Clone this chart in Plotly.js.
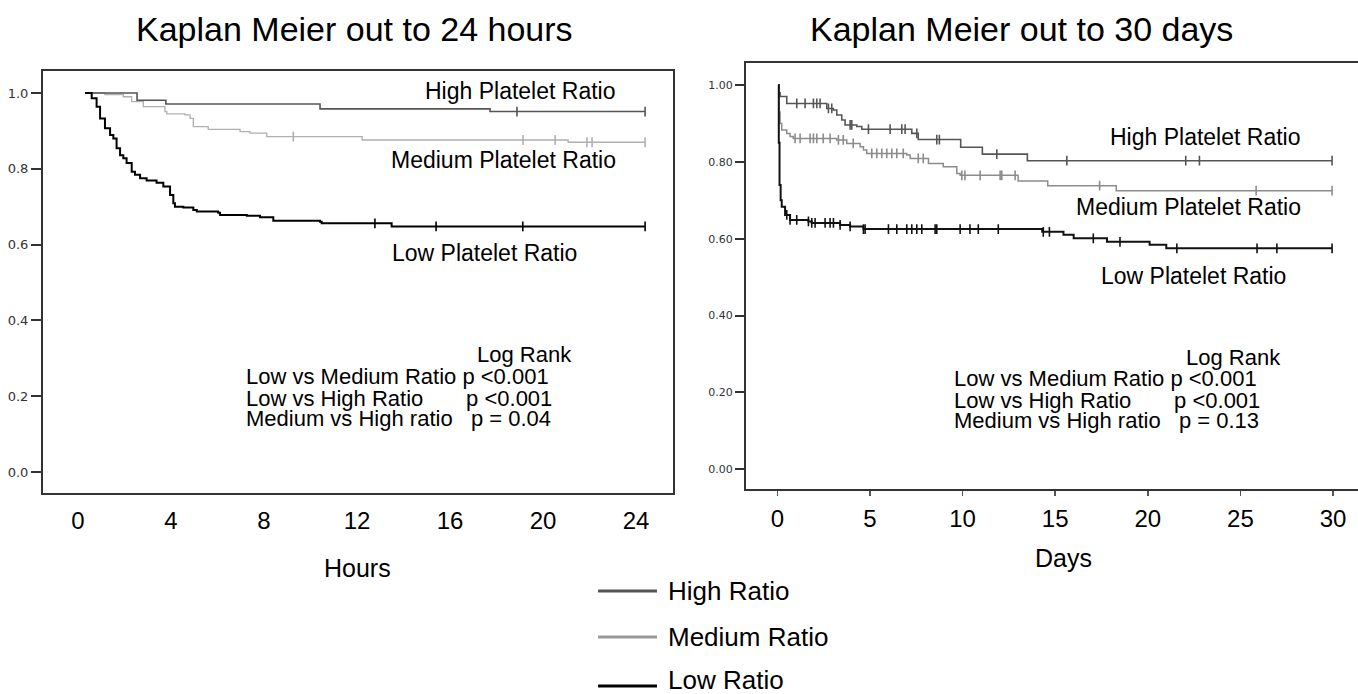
<!DOCTYPE html>
<html>
<head>
<meta charset="utf-8">
<script src="https://cdn.plot.ly/plotly-3.0.1.min.js"></script>
<style>html,body{margin:0;padding:0;background:#fff;}#chart{width:1358px;height:694px;}</style>
</head>
<body>
<div id="chart"></div>
<script>
// ---------- Data: Kaplan Meier out to 24 hours ----------
const hoursTicks = [0, 4, 8, 12, 16, 20, 24];
const hoursHighT = [0.30, 2.54, 3.78, 10.41, 17.72, 24.39];
const hoursHighS = [1.0, 0.981, 0.971, 0.958, 0.951, 0.951];
const hoursHighCens = [18.88, 24.39];

const hoursMedT = [0.30, 1.16, 1.95, 2.31, 2.81, 3.74, 3.82, 4.60, 4.82, 4.96, 5.60, 6.97, 7.40, 8.12, 12.22, 21.08, 24.39];
const hoursMedS = [1.0, 0.996, 0.99, 0.977, 0.964, 0.951, 0.945, 0.942, 0.933, 0.911, 0.904, 0.898, 0.894, 0.885, 0.876, 0.870, 0.870];
const hoursMedCens = [9.26, 19.14, 20.52, 21.89, 22.11, 24.39];

const hoursLowT = [0.30, 0.59, 0.80, 0.95, 1.16, 1.38, 1.52, 1.66, 1.81, 1.95, 2.09, 2.31, 2.45, 2.67, 2.95, 3.38, 3.67, 3.96, 4.10, 4.17, 4.53, 4.96, 5.11, 6.03, 6.11, 7.26, 7.83, 8.40, 10.41, 10.48, 13.49, 24.39];
const hoursLowS = [1.0, 0.986, 0.964, 0.933, 0.907, 0.889, 0.880, 0.854, 0.836, 0.828, 0.815, 0.792, 0.784, 0.775, 0.769, 0.763, 0.753, 0.731, 0.709, 0.700, 0.698, 0.691, 0.687, 0.684, 0.678, 0.676, 0.672, 0.663, 0.660, 0.656, 0.648, 0.648];
const hoursLowCens = [12.77, 15.40, 19.13, 24.39];

// ---------- Data: Kaplan Meier out to 30 days ----------
const daysTicks = [0, 5, 10, 15, 20, 25, 30];
const daysHighT = [0.05, 0.08, 0.15, 0.51, 2.67, 3.02, 3.21, 3.48, 3.66, 4.29, 4.56, 7.26, 7.61, 9.90, 11.07, 13.50, 29.95];
const daysHighS = [1.0, 0.98, 0.970, 0.952, 0.939, 0.935, 0.922, 0.909, 0.896, 0.892, 0.885, 0.874, 0.858, 0.838, 0.820, 0.803, 0.803];
const daysHighCens = [1.05, 1.5, 1.95, 2.13, 2.31, 2.76, 2.94, 3.93, 4.02, 4.92, 6.09, 6.72, 6.9, 7.53, 8.61, 8.75, 11.85, 15.63, 22.05, 22.79, 29.95];

const daysMedT = [0.05, 0.08, 0.15, 0.24, 0.51, 0.69, 0.86, 3.21, 3.75, 4.47, 4.65, 4.83, 6.99, 7.17, 8.16, 8.96, 9.69, 9.87, 13.0, 14.6, 18.3, 29.95];
const daysMedS = [1.0, 0.93, 0.900, 0.883, 0.874, 0.866, 0.861, 0.857, 0.848, 0.839, 0.831, 0.822, 0.818, 0.809, 0.796, 0.787, 0.770, 0.765, 0.750, 0.738, 0.725, 0.725];
const daysMedCens = [0.96, 1.23, 1.77, 1.95, 2.13, 2.48, 2.85, 3.3, 3.56, 4.1, 5.1, 5.37, 5.64, 5.91, 6.18, 6.45, 6.8, 7.61, 7.88, 9.96, 10.13, 10.95, 12.03, 12.12, 12.84, 17.4, 25.85, 29.95];

const daysLowT = [0.05, 0.08, 0.12, 0.18, 0.24, 0.42, 0.69, 1.68, 1.86, 3.39, 3.93, 4.65, 14.3, 15.45, 16.0, 17.8, 20.1, 21.0, 29.95];
const daysLowS = [1.0, 0.85, 0.74, 0.70, 0.683, 0.662, 0.649, 0.645, 0.641, 0.636, 0.632, 0.625, 0.618, 0.610, 0.601, 0.592, 0.584, 0.575, 0.575];
const daysLowCens = [0.51, 0.69, 1.05, 1.68, 1.86, 2.04, 2.58, 2.85, 3.03, 3.39, 3.93, 4.65, 4.74, 6.0, 6.45, 6.99, 7.26, 7.53, 7.8, 8.52, 8.61, 9.87, 10.4, 10.85, 11.93, 14.36, 14.69, 17.06, 18.5, 21.57, 25.9, 26.97, 29.95];

const seriesNames = ["High Ratio", "Medium Ratio", "Low Ratio"];
const NB = '\u00A0';
const logRankRows = ["Low vs Medium Ratio p <0.001", "Low vs High Ratio" + NB.repeat(7) + "p <0.001", "Medium vs High ratio" + NB.repeat(3)];
const pHours = "p = 0.04", pDays = "p = 0.13";

// ---------- helpers ----------
function stepAt(T, S, t) {
  let v = S[0];
  for (let i = 0; i < T.length; i++) { if (T[i] <= t + 1e-9) v = S[i]; }
  return v;
}
function curve(T, S, color, width, xa, ya, name) {
  return {x: T, y: S, type: 'scatter', mode: 'lines', line: {shape: 'hv', color: color, width: width},
          xaxis: xa, yaxis: ya, name: name, hoverinfo: 'x+y+name'};
}
function cens(C, T, S, color, xa, ya, name) {
  return {x: C, y: C.map(t => stepAt(T, S, t)), type: 'scatter', mode: 'markers',
          marker: {symbol: 'line-ns-open', size: 7, color: color, line: {color: color, width: 1.6}},
          xaxis: xa, yaxis: ya, name: name + ' censored', hoverinfo: 'x+y+name'};
}

const cHigh = '#555555', cMedL = '#b0b0b0', cMedR = '#8c8c8c', cLow = '#000000';

const traces = [
  curve(hoursMedT, hoursMedS, cMedL, 1.3, 'x', 'y', seriesNames[1]),
  cens(hoursMedCens, hoursMedT, hoursMedS, cMedL, 'x', 'y', seriesNames[1]),
  curve(hoursHighT, hoursHighS, cHigh, 1.6, 'x', 'y', seriesNames[0]),
  cens(hoursHighCens, hoursHighT, hoursHighS, cHigh, 'x', 'y', seriesNames[0]),
  curve(hoursLowT, hoursLowS, cLow, 2.0, 'x', 'y', seriesNames[2]),
  cens(hoursLowCens, hoursLowT, hoursLowS, cLow, 'x', 'y', seriesNames[2]),

  curve(daysMedT, daysMedS, cMedR, 1.5, 'x2', 'y2', seriesNames[1]),
  cens(daysMedCens, daysMedT, daysMedS, cMedR, 'x2', 'y2', seriesNames[1]),
  curve(daysHighT, daysHighS, cHigh, 1.6, 'x2', 'y2', seriesNames[0]),
  cens(daysHighCens, daysHighT, daysHighS, cHigh, 'x2', 'y2', seriesNames[0]),
  curve(daysLowT, daysLowS, '#111111', 2.0, 'x2', 'y2', seriesNames[2]),
  cens(daysLowCens, daysLowT, daysLowS, '#111111', 'x2', 'y2', seriesNames[2])
];

const FONT = '"Liberation Sans", Arial, Helvetica, sans-serif';
const TICKFONT = '"DejaVu Sans", "Liberation Sans", sans-serif';

function ann(text, x, y, xref, yref, xanchor, size) {
  return {text: text, x: x, y: y, xref: xref, yref: yref, xanchor: xanchor, yanchor: 'middle',
          showarrow: false, borderpad: 0, font: {family: FONT, size: size, color: '#000'}};
}

const annotations = [
  // titles
  ann('Kaplan Meier out to 24 hours', 0.2614, 0.958, 'paper', 'paper', 'center', 34),
  ann('Kaplan Meier out to 30 days', 0.7525, 0.958, 'paper', 'paper', 'center', 34),
  // axis titles
  ann('Hours', 0.2629, 0.1816, 'paper', 'paper', 'center', 25),
  ann('Days', 0.7828, 0.196, 'paper', 'paper', 'center', 25),
  // left panel labels
  ann('High Platelet Ratio', 23.18, 1.005, 'x', 'y', 'right', 23),
  ann('Medium Platelet Ratio', 23.18, 0.823, 'x', 'y', 'right', 23),
  ann('Low Platelet Ratio', 13.46, 0.578, 'x', 'y', 'left', 23),
  ann('Log Rank', 21.29, 0.309, 'x', 'y', 'right', 22),
  ann(logRankRows[0], 7.18, 0.253, 'x', 'y', 'left', 22),
  ann(logRankRows[1], 7.18, 0.195, 'x', 'y', 'left', 22),
  ann(logRankRows[2] + pHours, 7.18, 0.140, 'x', 'y', 'left', 22),
  // right panel labels
  ann('High Platelet Ratio', 28.33, 0.865, 'x2', 'y2', 'right', 23),
  ann('Medium Platelet Ratio', 28.33, 0.683, 'x2', 'y2', 'right', 23),
  ann('Low Platelet Ratio', 17.42, 0.503, 'x2', 'y2', 'left', 23),
  ann('Log Rank', 27.25, 0.292, 'x2', 'y2', 'right', 22),
  ann(logRankRows[0], 9.49, 0.235, 'x2', 'y2', 'left', 22),
  ann(logRankRows[1], 9.49, 0.180, 'x2', 'y2', 'left', 22),
  ann(logRankRows[2] + pDays, 9.49, 0.128, 'x2', 'y2', 'left', 22),
  // legend texts
  ann(seriesNames[0], 0.4911, 0.1484, 'paper', 'paper', 'left', 26),
  ann(seriesNames[1], 0.4911, 0.0821, 'paper', 'paper', 'left', 26),
  ann(seriesNames[2], 0.4911, 0.0195, 'paper', 'paper', 'left', 26)
];

const legendColors = ['#555555', '#999999', '#000000'];
const legendY = [0.1484, 0.0821, 0.0115];
const shapes = legendY.map((yy, i) => ({type: 'line', xref: 'paper', yref: 'paper',
  x0: 0.4404, x1: 0.4838, y0: yy, y1: yy, line: {color: legendColors[i], width: 3}}));

const axisCommon = {showgrid: false, zeroline: false, showline: true, linecolor: '#333', linewidth: 2, fixedrange: true};

const layout = {
  width: 1358, height: 694,
  margin: {l: 0, r: 0, t: 0, b: 0, pad: 0},
  paper_bgcolor: '#fff', plot_bgcolor: '#fff',
  showlegend: false,
  font: {family: FONT, color: '#000'},
  xaxis: Object.assign({}, axisCommon, {
    domain: [0.03166, 0.49558], range: [-1.505, 25.59], anchor: 'y', mirror: true,
    tickmode: 'array', tickvals: hoursTicks, ticktext: hoursTicks.map(String),
    ticks: 'outside', ticklen: 5, tickcolor: 'rgba(0,0,0,0)',
    tickfont: {family: FONT, size: 24, color: '#000'}
  }),
  yaxis: Object.assign({}, axisCommon, {
    domain: [0.2896, 0.8977], range: [-0.0554, 1.058], anchor: 'x', mirror: true,
    tickmode: 'array', tickvals: [0, 0.2, 0.4, 0.6, 0.8, 1.0], tickformat: '.1f',
    ticks: 'outside', ticklen: 10, tickwidth: 2, tickcolor: '#333',
    tickfont: {family: TICKFONT, size: 13, color: '#333'}
  }),
  xaxis2: Object.assign({}, axisCommon, {
    domain: [0.54934, 1], range: [-1.69, 31.35], anchor: 'y2', mirror: true,
    tickmode: 'array', tickvals: daysTicks, ticktext: daysTicks.map(String),
    ticks: 'outside', ticklen: 5, tickwidth: 1.5, tickcolor: '#555', ticklabelstandoff: 2,
    tickfont: {family: FONT, size: 24, color: '#000'}
  }),
  yaxis2: Object.assign({}, axisCommon, {
    domain: [0.2950, 0.9088], range: [-0.052, 1.0565], anchor: 'x2', mirror: false,
    tickmode: 'array', tickvals: [0, 0.2, 0.4, 0.6, 0.8, 1.0], tickformat: '.2f',
    ticks: 'outside', ticklen: 9, tickwidth: 2, tickcolor: '#333',
    tickfont: {family: TICKFONT, size: 11, color: '#333'}
  }),
  annotations: annotations,
  shapes: shapes
};

Plotly.newPlot('chart', traces, layout, {displayModeBar: false, staticPlot: true});
</script>
</body>
</html>
